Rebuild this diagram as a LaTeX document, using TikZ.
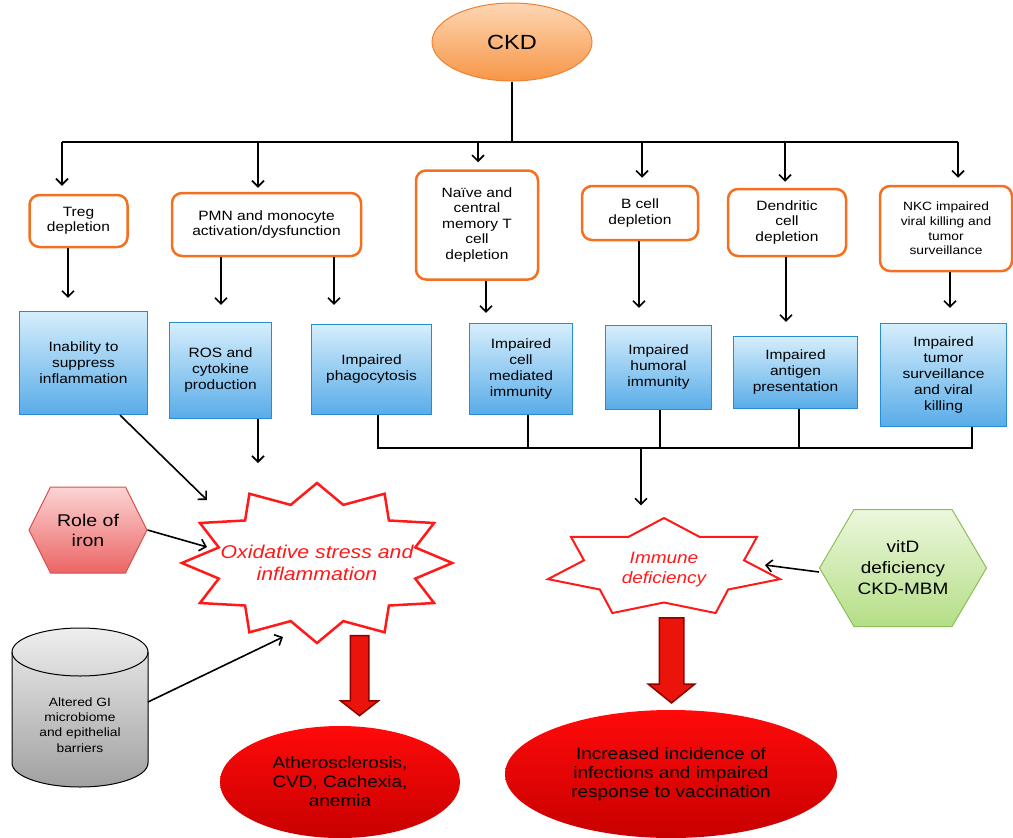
\documentclass[tikz,border=0pt]{standalone}
\usepackage{fontspec}
\setmainfont{Liberation Sans}[FakeStretch=1.15]
\usetikzlibrary{shapes.geometric, shapes.symbols, shapes.arrows, arrows.meta, positioning, calc}

\definecolor{ckdtop}{RGB}{253,214,180}
\definecolor{ckdbot}{RGB}{247,150,70}
\definecolor{ckdedge}{RGB}{240,130,50}
\definecolor{causeedge}{RGB}{244,112,32}
\definecolor{effecttop}{RGB}{214,238,252}
\definecolor{effectbot}{RGB}{88,172,232}
\definecolor{effectedge}{RGB}{40,140,210}
\definecolor{irontop}{RGB}{252,212,212}
\definecolor{ironbot}{RGB}{236,100,100}
\definecolor{ironedge}{RGB}{214,80,76}
\definecolor{vittop}{RGB}{236,247,220}
\definecolor{vitbot}{RGB}{180,222,134}
\definecolor{vitedge}{RGB}{140,190,90}
\definecolor{gitop}{RGB}{238,238,238}
\definecolor{gibot}{RGB}{160,160,160}
\definecolor{burstred}{RGB}{255,25,25}
\definecolor{outtop}{RGB}{255,10,10}
\definecolor{outbot}{RGB}{200,0,0}
\definecolor{fatedge}{RGB}{140,0,0}
\definecolor{fatfill}{RGB}{235,20,10}

\newcommand{\setfs}[2]{\fontsize{#1}{#2}\selectfont}

\tikzset{
  wire/.style={line width=1.6pt},
  cause/.style={draw=causeedge, line width=2.5pt, rounded corners=10pt, fill=white, align=center, inner sep=2pt, font=\setfs{13.5}{15.5}},
  effect/.style={draw=effectedge, line width=1.2pt, top color=effecttop, bottom color=effectbot, align=center, inner sep=2pt, font=\setfs{13.5}{16}},
  hexa/.style={signal, signal to=west and east, line width=1pt, align=center, inner sep=0pt},
  burst/.style={star, draw=burstred, fill=white, line width=2.5pt, inner sep=0pt, transform shape},
  bursttext/.style={text=burstred, align=center, font=\itshape\setfs{18.5}{22}},
  fatarrow/.style={single arrow, shape border rotate=270, draw=fatedge, fill=fatfill, line width=1.5pt, single arrow head indent=0pt},
  outcome/.style={ellipse, top color=outtop, bottom color=outbot, align=center, font=\setfs{16.5}{19}}
}

\begin{document}
\begin{tikzpicture}[x=1pt, y=-1pt, >={Straight Barb[length=6pt,width=12pt]}]
\useasboundingbox (0,0) rectangle (1013,838);

% Root
\node[ellipse, draw=ckdedge, line width=1pt, top color=ckdtop, bottom color=ckdbot, minimum width=160, minimum height=78, font=\setfs{20.5}{24}] (ckd) at (512,42) {CKD};

% Immune cell defects
\node[cause, minimum width=98, minimum height=52] (treg) at (78.5,221) {Treg\\depletion};
\node[cause, minimum width=189, minimum height=63] (pmn) at (266.5,224.5) {PMN and monocyte\\activation/dysfunction};
\node[cause, minimum width=122, minimum height=109] (naive) at (477,225) {Naïve and\\central\\memory T\\cell\\depletion};
\node[cause, minimum width=116, minimum height=54] (bcell) at (640,213) {B cell\\depletion};
\node[cause, minimum width=118, minimum height=67] (dendritic) at (787,222.5) {Dendritic\\cell\\depletion};
\node[cause, minimum width=132, minimum height=85, font=\setfs{12}{14.7}] (nkc) at (946,228.5) {NKC impaired\\viral killing and\\tumor\\surveillance};

% Consequences
\node[effect, minimum width=128, minimum height=103] (inab) at (83.5,363) {Inability to\\suppress\\inflammation};
\node[effect, minimum width=102, minimum height=96] (ros) at (220.5,370.5) {ROS and\\cytokine\\production};
\node[effect, minimum width=120, minimum height=90] (phago) at (371.5,369.5) {Impaired\\phagocytosis};
\node[effect, minimum width=103, minimum height=91] (cellmed) at (521,369) {Impaired\\cell\\mediated\\immunity};
\node[effect, minimum width=106, minimum height=84] (humoral) at (658.5,367.5) {Impaired\\humoral\\immunity};
\node[effect, minimum width=124, minimum height=72] (antigen) at (795.5,372.5) {Impaired\\antigen\\presentation};
\node[effect, minimum width=126, minimum height=103] (tumor) at (943.5,375) {Impaired\\tumor\\surveillance\\and viral\\killing};

% Tree from CKD
\coordinate (bus) at (512,142);
\draw[wire] (ckd.south) -- (bus);
\draw[wire] ([xshift=-16.5pt]treg.north |- bus) -- ([xshift=12pt]nkc.north |- bus);
\draw[->, wire, shorten >=8pt] ([xshift=-16.5pt]treg.north |- bus) -- ([xshift=-16.5pt]treg.north);
\draw[->, wire, shorten >=4pt] ([xshift=-8.5pt]pmn.north |- bus) -- ([xshift=-8.5pt]pmn.north);
\draw[->, wire, shorten >=7pt] ([xshift=1pt]naive.north |- bus) -- ([xshift=1pt]naive.north);
\draw[->, wire, shorten >=7pt] ([xshift=2pt]bcell.north |- bus) -- ([xshift=2pt]bcell.north);
\draw[->, wire, shorten >=6pt] ([xshift=-2pt]dendritic.north |- bus) -- ([xshift=-2pt]dendritic.north);
\draw[->, wire, shorten >=7pt] ([xshift=12pt]nkc.north |- bus) -- ([xshift=12pt]nkc.north);

% Defects to consequences
\draw[->, wire, shorten >=13pt] ([xshift=-10.5pt]treg.south) -- ([xshift=-10.5pt]treg.south |- inab.north);
\draw[->, wire, shorten >=17pt] ([xshift=-45.5pt]pmn.south) -- ([xshift=-45.5pt]pmn.south |- ros.north);
\draw[->, wire, shorten >=19pt] ([xshift=67.5pt]pmn.south) -- ([xshift=67.5pt]pmn.south |- phago.north);
\draw[->, wire, shorten >=10pt] ([xshift=9pt]naive.south) -- ([xshift=9pt]naive.south |- cellmed.north);
\draw[->, wire, shorten >=17pt] ([xshift=-1pt]bcell.south) -- ([xshift=-1pt]bcell.south |- humoral.north);
\draw[->, wire, shorten >=14pt] ([xshift=-1pt]dendritic.south) -- ([xshift=-1pt]dendritic.south |- antigen.north);
\draw[->, wire, shorten >=15pt] ([xshift=4pt]nkc.south) -- ([xshift=4pt]nkc.south |- tumor.north);

% Bursts
\coordinate (oxc) at (317,563);
\coordinate (imc) at (664,568);
\node[burst, star points=12, star point ratio=1.33, minimum size=160, xscale=1.69] (oxstar) at (oxc) {};
\node[bursttext] (ox) at (oxstar.center) {Oxidative stress and\\inflammation};
\node[burst, line width=2pt, star points=7, star point ratio=1.45, minimum size=100, xscale=2.38] (imstar) at (imc) {};
\node[bursttext, font=\itshape\setfs{16.5}{20}] (imm) at ([yshift=-2pt]imstar.center) {Immune\\deficiency};

% Side factors
\node[hexa, draw=ironedge, top color=irontop, bottom color=ironbot, minimum width=118, minimum height=86, signal pointer angle=127, font=\setfs{17}{20}] (iron) at (88,530) {Role of\\iron};
\node[hexa, draw=vitedge, top color=vittop, bottom color=vitbot, minimum width=167, minimum height=117, signal pointer angle=119, font=\setfs{16.5}{21}] (vitd) at (903,568) {vitD\\deficiency\\CKD-MBM};
% GI cylinder
\shade[top color=gitop, bottom color=gibot, draw=black, line width=1pt] (12,652) -- (12,763) arc[start angle=180, end angle=0, x radius=68, y radius=24] -- (148,652) arc[start angle=0, end angle=-180, x radius=68, y radius=24] -- cycle;
\draw[line width=1pt] (12,652) arc[start angle=180, end angle=0, x radius=68, y radius=24];
\node[align=center, font=\setfs{12}{15.4}] (gi) at (80,725) {Altered GI\\microbiome\\and epithelial\\barriers};
\coordinate (giout) at (148,702);

% Arrows into the bursts
\coordinate (oxin) at (207,500);
\coordinate (oxros) at (258,463);
\coordinate (oxfe) at (207,547);
\coordinate (oxgi) at (283,637);
\coordinate (imvd) at (765,565);
\draw[->, wire] ([xshift=36.5pt]inab.south) -- (oxin);
\draw[->, wire] ([xshift=37.5pt]ros.south) -- (oxros);
\draw[->, wire] (iron.east) -- (oxfe);
\draw[->, wire] (giout) -- (oxgi);
\draw[->, wire] ([yshift=-4pt]vitd.west) -- (imvd);

% Collector of immune defects
\coordinate (ibus) at (641,448);
\draw[wire] ([xshift=6.5pt]phago.south) -- ([xshift=6.5pt]phago.south |- ibus) -- ([xshift=28.5pt]tumor.south |- ibus) -- ([xshift=28.5pt]tumor.south);
\draw[wire] ([xshift=7pt]cellmed.south) -- ([xshift=7pt]cellmed.south |- ibus);
\draw[wire] ([xshift=1.5pt]humoral.south) -- ([xshift=1.5pt]humoral.south |- ibus);
\draw[wire] ([xshift=3.5pt]antigen.south) -- ([xshift=3.5pt]antigen.south |- ibus);
\draw[->, wire, shorten >=11pt] (ibus) -- (ibus |- imstar.north);

% Outcomes
\node[fatarrow, inner sep=8.5pt, minimum height=80, single arrow head extend=9.5pt, single arrow tip angle=104] (oxarrow) at (359.5,672) {};
\node[fatarrow, inner sep=11.5pt, minimum height=85, single arrow head extend=11pt, single arrow tip angle=102] (imarrow) at (671.5,655.5) {};
\node[outcome, minimum width=240, minimum height=112] (athero) at (340,782) {Atherosclerosis,\\CVD, Cachexia,\\anemia};
\node[outcome, minimum width=332, minimum height=128] (infect) at (671,774) {Increased incidence of\\infections and impaired\\response to vaccination};
\end{tikzpicture}
\end{document}
